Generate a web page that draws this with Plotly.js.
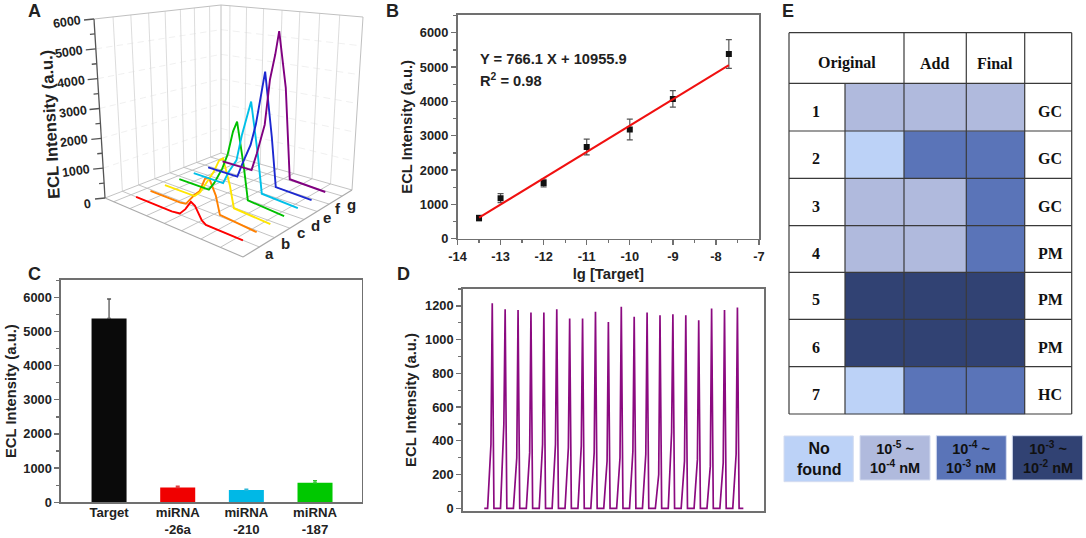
<!DOCTYPE html>
<html><head><meta charset="utf-8">
<script src="https://cdn.plot.ly/plotly-3.0.1.min.js"></script>
<style>html,body{margin:0;padding:0;background:#fff}</style>
</head><body><div id="chart" style="width:1086px;height:538px"></div>
<script>
// ---------- Panel A data ----------
const waveLabels = ['a','b','c','d','e','f','g'];
const waveColors = ['#ff0000','#ff8000','#ffe600','#00c000','#00c0e8','#1c28d0','#800080'];
const wavePos = [0.10,0.32,0.36,0.42,0.46,0.50,0.53,0.58,0.61,0.88];
const waveA = [0,0,0,40,250,560,480,100,10,0];
const waveB = [0,0,30,420,620,1100,1180,680,100,0];
const waveC = [0,0,200,730,1050,1500,1620,800,80,0];
const waveD = [0,0,300,900,1450,2300,2670,1200,100,0];
const waveE = [0,0,450,965,1900,2600,3180,1400,80,0];
const waveF = [0,0,550,1300,2100,3200,4070,1800,60,0];
const waveG = [0,0,680,1830,3550,4500,5380,3350,80,0];
const waveRows = [0.15,0.275,0.40,0.525,0.65,0.775,0.90];
const zTicks = [0,1000,2000,3000,4000,5000,6000];
const zMinor = [500,1500,2500,3500,4500,5500];
// ---------- Panel B data ----------
const logTarget = [-13.5,-13,-12,-11,-10,-9,-7.7];
const eclMean = [600,1180,1620,2670,3180,4070,5380];
const eclErr = [80,130,110,230,300,240,420];
const fitX = [-13.5,-7.7];
const fitY = [613,5057];
const logTicks = [-14,-13,-12,-11,-10,-9,-8,-7];
const logTickText = ['-14','-13','-12','-11','-10','-9','-8','-7'];
// ---------- Panel C data ----------
const barNames = ['Target','miRNA<br>-26a','miRNA<br>-210','miRNA<br>-187'];
const barValues = [5380,430,360,570];
const barErrors = [570,40,25,60];
const barColors = ['#0a0a0a','#f00000','#00b8e6','#00c800'];
const barErrColors = ['#555555','#e04040','#30b8d8','#30c830'];
// ---------- Panel D data ----------
const cyclePeaks = [1215,1180,1175,1160,1160,1180,1125,1125,1165,1105,1195,1135,1160,1145,1150,1145,1115,1185,1175,1190];
const cycleShoulders = [380,500,300,330,380,380,360,370,330,280,300,340,320,200,450,280,290,250,270,320];
// ---------- Panel E data ----------
const colNames = ['Original','Add','Final'];
const rowNames = ['1','2','3','4','5','6','7'];
const rowTypes = ['GC','GC','GC','PM','PM','PM','HC'];
const levels = [[1,1,1],[0,2,2],[1,1,2],[1,1,2],[3,3,3],[3,3,3],[0,2,2]];
const levelColors = ['#bcd2f7','#b0badd','#5a74b8','#314273'];
const legendLabels = ['No<br>found','10<sup>-5</sup> ~<br>10<sup>-4</sup> nM','10<sup>-4</sup> ~<br>10<sup>-3</sup> nM','10<sup>-3</sup> ~<br>10<sup>-2</sup> nM'];

// ---------- layout constants ----------
const W=1086,H=538;
const sans='"Liberation Sans",Arial,sans-serif', serif='"Liberation Serif","Times New Roman",serif';
const ink='#222222', frame='#707070';
const dx=(a,b)=>[a/W,b/W], dy=(top,bot)=>[1-bot/H,1-top/H];
const cL=[105,198],cF=[243,257],cB=[221,153],cR=[352,190];
const tL=[94,19],tF=[243,57],tB=[221,5],tR=[363,17];
const gridV=[0.15,0.29,0.43,0.56,0.68,0.79,0.91];
const gridU=[0.063,0.18,0.30,0.43,0.555,0.695,0.836];
function P(u,v,val,upright){
  const z=val/6000, out=[0,0];
  for(let i=0;i<2;i++){
    const f=(1-u)*(1-v)*cL[i]+u*(1-v)*cF[i]+(1-u)*v*cB[i]+u*v*cR[i];
    const t=(1-u)*(1-v)*tL[i]+u*(1-v)*tF[i]+(1-u)*v*tB[i]+u*v*tR[i];
    out[i]=(upright&&i===0)?f:f+(t-f)*z;
  }
  return out;
}
function seg(list,a,b){list.x.push(a[0],b[0],null);list.y.push(a[1],b[1],null);}
const traces=[];
// E heat cells
const gx=[789,845,904,966.3,1024.7,1071.7];
const gy=[32.7,83.3,131,178.3,225.7,272.3,319.3,366.7,414];
traces.push({type:'heatmap',x:gx.slice(1,5),y:gy.slice(1),z:levels,zmin:0,zmax:3,showscale:false,hoverinfo:'skip',
  colorscale:[[0,levelColors[0]],[.25,levelColors[0]],[.25,levelColors[1]],[.5,levelColors[1]],[.5,levelColors[2]],[.75,levelColors[2]],[.75,levelColors[3]],[1,levelColors[3]]]});
// E grid
const eg={x:[],y:[]};
gy.forEach(y=>seg(eg,[gx[0],y],[gx[5],y]));
seg(eg,[gx[0],gy[0]],[gx[0],gy[8]]);seg(eg,[gx[5],gy[0]],[gx[5],gy[8]]);
[2,3,4].forEach(i=>seg(eg,[gx[i],gy[0]],[gx[i],gy[8]]));
seg(eg,[gx[1],gy[1]],[gx[1],gy[8]]);
traces.push({type:'scatter',mode:'lines',x:eg.x,y:eg.y,line:{color:'#3a3a3a',width:1.2},hoverinfo:'skip',showlegend:false});
// A walls
const wall={x:[],y:[]},wallH={x:[],y:[]},floor={x:[],y:[]},edge={x:[],y:[]},dark={x:[],y:[]};
gridV.forEach(v=>{seg(wall,P(0,v,0),P(0,v,6000));seg(floor,P(0,v,0),P(1,v,0));});
gridU.forEach(u=>{seg(wall,P(u,1,0),P(u,1,6000));seg(floor,P(u,0,0),P(u,1,0));});
zTicks.slice(1,6).forEach(z=>{
  for(let i=0;i<12;i++){const a=i/12;seg(wallH,P(0,a,z),P(0,a+.05,z));seg(wallH,P(a,1,z),P(a+.05,1,z));}
});
seg(edge,P(0,0,6000),P(0,1,6000));seg(edge,P(0,1,6000),P(1,1,6000));
seg(edge,P(1,1,6000),P(1,1,0));seg(edge,P(0,1,0),P(0,1,6000));
seg(floor,P(0,1,0),P(1,1,0));seg(floor,P(0,0,0),P(0,1,0));
seg(dark,P(0,0,0),P(0,0,6000));
zTicks.forEach(z=>{const a=P(0,0,z);seg(dark,[a[0]-10,a[1]+1],a);});
zMinor.forEach(z=>{const a=P(0,0,z);seg(dark,[a[0]-5,a[1]+.5],a);});
const fr={x:[],y:[]};seg(fr,P(0,0,0),P(1,0,0));seg(fr,P(1,0,0),P(1,1,0));
[[wallH,'#ececec',.8],[wall,'#d8d8d8',.9],[edge,'#c0c0c0',1],[floor,'#bcbcbc',.9],[fr,'#aaaaaa',1.1],[dark,'#555555',1.3]]
 .forEach(s=>traces.push({type:'scatter',mode:'lines',x:s[0].x,y:s[0].y,line:{color:s[1],width:s[2]},hoverinfo:'skip',showlegend:false}));
// A waves
[waveA,waveB,waveC,waveD,waveE,waveF,waveG].forEach((vals,i)=>{
  const pts=wavePos.map((u,k)=>P(u,waveRows[i],vals[k],true));
  traces.push({type:'scatter',mode:'lines',name:waveLabels[i],x:pts.map(p=>p[0]),y:pts.map(p=>p[1]),line:{color:waveColors[i],width:1.9},showlegend:false});
});
// B
traces.push({type:'scatter',mode:'markers',xaxis:'x2',yaxis:'y2',x:logTarget,y:eclMean,marker:{symbol:'square',size:6,color:'#111'},
  error_y:{type:'data',array:eclErr,color:'#555',thickness:1.2,width:3},showlegend:false});
traces.push({type:'scatter',mode:'lines',xaxis:'x2',yaxis:'y2',x:fitX,y:fitY,line:{color:'#f01010',width:2},showlegend:false});
// C
barNames.forEach((n,i)=>traces.push({type:'bar',xaxis:'x3',yaxis:'y3',x:[n],y:[barValues[i]],width:.51,marker:{color:barColors[i],line:{color:'#ffffff',width:0}},
  error_y:{type:'data',symmetric:false,array:[barErrors[i]],arrayminus:[0],color:barErrColors[i],thickness:1.3,width:2},showlegend:false}));
// D
const dX=[],dY=[];
dX.push(-0.62);dY.push(0);
cyclePeaks.forEach((p,i)=>{
  dX.push(i-.36,i-.1,i,i+.13);dY.push(0,cycleShoulders[i],p,0);
});
dX.push(19.46);dY.push(0);
traces.push({type:'scatter',mode:'lines',xaxis:'x4',yaxis:'y4',x:dX,y:dY,line:{color:'#8b0a80',width:1.7},showlegend:false});

// annotations
const ann=[];
const T=(x,y,text,o)=>ann.push(Object.assign({xref:'x',yref:'y',x,y,text,showarrow:false,font:{family:sans,size:13,color:ink,weight:'bold'}},o||{}));
const Bf=(s,c,fam)=>({family:fam||sans,size:s,color:c||ink,weight:'bold'});
T(34,11,'A',{font:Bf(18)});T(392,11,'B',{font:Bf(18)});T(34,274,'C',{font:Bf(18)});T(403,274,'D',{font:Bf(18)});T(788,11,'E',{font:Bf(18)});
zTicks.forEach(z=>{const a=P(0,0,z);T(z?a[0]-27:a[0]-18,a[1]+(z?3:6),String(z),{font:Bf(12.5),textangle:-8});});
T(50,125,'ECL Intensity (a.u.)',{font:Bf(16.5),textangle:-93});
const lp=[[269,253],[285,243],[301,232],[315,225],[327,217],[338,208],[351,204]];
waveLabels.forEach((l,i)=>T(lp[i][0],lp[i][1],l,{font:Bf(15)}));
T(478,59,'Y = 766.1 X + 10955.9',{font:Bf(14.7),xanchor:'left'});
T(478,80,'R<sup>2</sup> = 0.98',{font:Bf(14.7),xanchor:'left'});
const tf=Bf(16,'#111',serif);
T(846.7,63,colNames[0],{font:tf});T(934,63,colNames[1],{font:tf});T(995,63,colNames[2],{font:tf});
rowNames.forEach((r,i)=>{const y=(gy[i+1]+gy[i+2])/2+4;T(816,y,r,{font:tf});T(1050,y,rowTypes[i],{font:tf});});
const lb=[[784,853.3,436,481.7],[860,930,435.7,480],[936.3,1006.3,435.7,480],[1012.3,1082.7,435.7,480]];
legendLabels.forEach((l,i)=>T((lb[i][0]+lb[i][1])/2,(lb[i][2]+lb[i][3])/2,l,{font:Bf(i?14.5:16,'#111')}));
const shapes=lb.map((b,i)=>({type:'rect',layer:'below',xref:'x',yref:'y',x0:b[0],x1:b[1],y0:b[2],y1:b[3],fillcolor:levelColors[i],line:{color:'#d4dcf0',width:1}}));

const axisBase={showline:true,mirror:true,linecolor:frame,linewidth:1.6,ticks:'outside',ticklen:5,tickwidth:1.3,tickcolor:frame,showgrid:false,zeroline:false,
  tickfont:{family:sans,size:12.8,color:ink,weight:'bold'}};
const titleFont={family:sans,size:14.8,color:ink,weight:'bold'};
const hidden={visible:false,showgrid:false,zeroline:false};
const layout={width:W,height:H,margin:{l:0,r:0,t:0,b:0},paper_bgcolor:'#fff',plot_bgcolor:'rgba(0,0,0,0)',showlegend:false,barmode:'overlay',
  xaxis:Object.assign({},hidden,{domain:[0,1],range:[0,W],anchor:'y'}),
  yaxis:Object.assign({},hidden,{domain:[0,1],range:[H,0],anchor:'x'}),
  xaxis2:Object.assign({},axisBase,{domain:dx(457.5,759),range:[-14,-7],tickvals:logTicks,ticktext:logTickText,anchor:'y2',minor:{dtick:.5,ticks:'outside',ticklen:3,tickcolor:frame},title:{text:'lg [Target]',font:titleFont,standoff:6}}),
  yaxis2:Object.assign({},axisBase,{domain:dy(15,238.7),range:[0,6515],tick0:0,dtick:1000,anchor:'x2',minor:{dtick:500,ticks:'outside',ticklen:3,tickcolor:frame},title:{text:'ECL Intensity (a.u.)',font:titleFont,standoff:3}}),
  xaxis3:Object.assign({},axisBase,{domain:dx(61,361.7),type:'category',categoryorder:'array',categoryarray:barNames,range:[-.7,3.68],anchor:'y3',ticks:'',ticklen:0,ticklabelstandoff:-3,tickfont:{family:sans,size:13.2,color:ink,weight:'bold'}}),
  yaxis3:Object.assign({},axisBase,{domain:dy(280,502.3),range:[0,6506],tick0:0,dtick:1000,anchor:'x3',minor:{dtick:500,ticks:'outside',ticklen:3,tickcolor:frame},title:{text:'ECL Intensity (a.u.)',font:titleFont,standoff:3}}),
  xaxis4:Object.assign({},axisBase,{domain:dx(462.7,764),range:[-2.29,21.06],anchor:'y4',ticks:'',showticklabels:false}),
  yaxis4:Object.assign({},axisBase,{domain:dy(289,511),range:[-16,1300],tick0:0,dtick:200,anchor:'x4',minor:{dtick:100,ticks:'outside',ticklen:3,tickcolor:frame},title:{text:'ECL Intensity (a.u.)',font:titleFont,standoff:5}}),
  annotations:ann,shapes:shapes};
Plotly.newPlot('chart',traces,layout,{staticPlot:true,displayModeBar:false});
</script></body></html>
